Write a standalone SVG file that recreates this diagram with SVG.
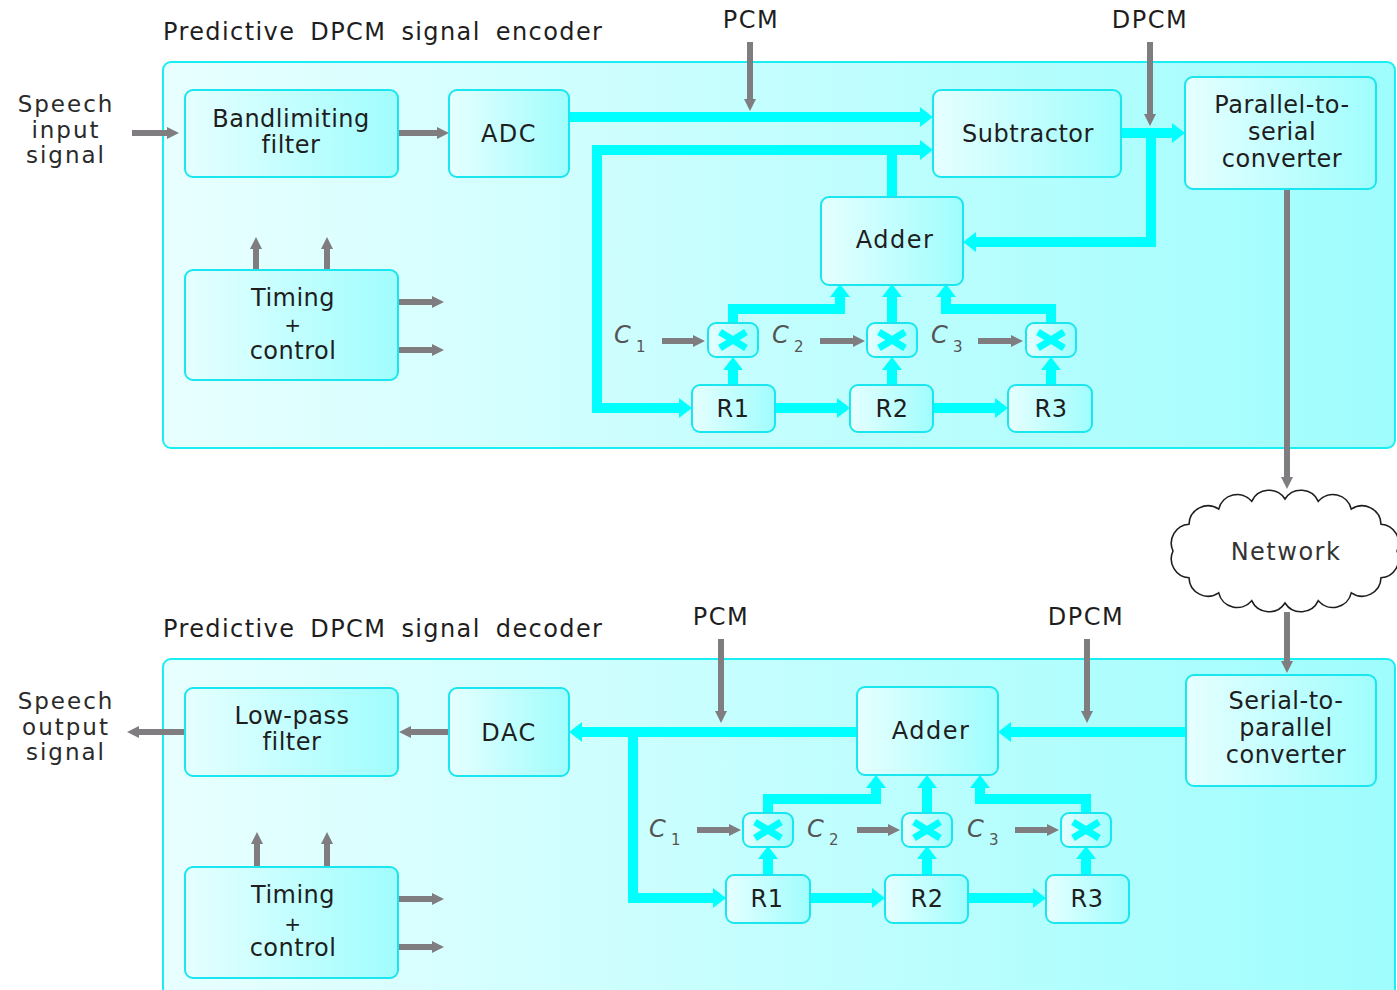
<svg xmlns="http://www.w3.org/2000/svg" width="1397" height="990" viewBox="0 0 1397 990">
<defs>
<linearGradient id="bg" x1="0" y1="0" x2="1" y2="0"><stop offset="0" stop-color="#e6ffff"/><stop offset="1" stop-color="#a0fdfd"/></linearGradient>
<linearGradient id="pg" gradientUnits="userSpaceOnUse" x1="163" y1="0" x2="1397" y2="0"><stop offset="0" stop-color="#e8ffff"/><stop offset="1" stop-color="#9ffdfd"/></linearGradient>
<marker id="ca" markerUnits="userSpaceOnUse" markerWidth="14" markerHeight="20" viewBox="0 0 14 20" refX="0" refY="10" orient="auto"><path d="M0,0 L13,10 L0,20 Z" fill="#00ffff"/></marker>
<marker id="ga" markerUnits="userSpaceOnUse" markerWidth="12" markerHeight="12" viewBox="0 0 12 12" refX="0" refY="6" orient="auto"><path d="M0,0 L12,6 L0,12 Z" fill="#7f7d80"/></marker>
<g id="mul"><rect x="-25" y="-17" width="50" height="34" rx="8" class="box"/><path d="M-13,-8 L13,8 M-13,8 L13,-8" stroke="#00ffff" stroke-width="7" fill="none"/></g>
</defs>
<style>
.box{stroke:#19e6ee;stroke-width:2;fill:url(#bg)}
.panel{stroke:#19eef2;stroke-width:2;fill:url(#pg)}
.t{font-family:"DejaVu Sans",sans-serif;font-size:24px;fill:#1e1e1e;text-anchor:middle;letter-spacing:0.5px}
.w{letter-spacing:1.5px}
.p{font-size:20px}
.s{font-family:"DejaVu Sans",sans-serif;font-size:23px;fill:#2a2a2a;text-anchor:middle;letter-spacing:2px}
.h{font-family:"DejaVu Sans",sans-serif;font-size:24px;fill:#1e1e1e;letter-spacing:1.4px;word-spacing:6px}
.ci{font-family:"DejaVu Sans",sans-serif;font-size:24px;fill:#555;font-style:italic}
.cs{font-family:"DejaVu Sans",sans-serif;font-size:15px;fill:#555}
.c{fill:none;stroke:#00ffff;stroke-width:10;marker-end:url(#ca)}
.g{fill:none;stroke:#7f7d80;stroke-width:6;marker-end:url(#ga)}
</style>
<rect width="1397" height="990" fill="#ffffff"/>

<g id="encoder-panel">
<rect class="panel" x="163" y="62" width="1232" height="386" rx="8"/>
<text class="h" x="163" y="40">Predictive DPCM signal encoder</text>
</g>
<g id="decoder-panel">
<rect class="panel" x="163" y="659" width="1232" height="345" rx="8"/>
<text class="h" x="163" y="637">Predictive DPCM signal decoder</text>
</g>

<g id="connectors">
<path class="c" d="M569,117 H920"/>
<path class="c" d="M892,197 V150 H920"/>
<path class="c" d="M892,150 H597 V408 H679"/>
<path class="c" d="M1121,133 H1172"/>
<path class="c" d="M1151,128 V242 H976"/>
<path class="c" d="M733,323 V309 H840 V297"/>
<path class="c" d="M892,323 V297"/>
<path class="c" d="M1051,323 V309 H946 V297"/>
<path class="c" d="M733,385 V370"/>
<path class="c" d="M892,385 V370"/>
<path class="c" d="M1051,385 V370"/>
<path class="c" d="M775,408 H837"/>
<path class="c" d="M933,408 H995"/>
<path class="c" d="M1186,732 H1011"/>
<path class="c" d="M857,732 H582"/>
<path class="c" d="M633,727 V898 H713"/>
<path class="c" d="M810,898 H872"/>
<path class="c" d="M968,898 H1033"/>
<path class="c" d="M768,875 V859"/>
<path class="c" d="M927,875 V859"/>
<path class="c" d="M1086,875 V859"/>
<path class="c" d="M768,814 V799 H876 V788"/>
<path class="c" d="M927,814 V788"/>
<path class="c" d="M1086,814 V799 H980 V788"/>
<path class="g" d="M132,133 H167"/>
<path class="g" d="M398,133 H437"/>
<path class="g" d="M750,42 V99"/>
<path class="g" d="M1150,42 V114"/>
<path class="g" d="M256,270 V249"/>
<path class="g" d="M327,270 V249"/>
<path class="g" d="M398,302 H432"/>
<path class="g" d="M398,350 H432"/>
<path class="g" d="M662,341 H693"/>
<path class="g" d="M820,341 H853"/>
<path class="g" d="M978,341 H1011"/>
<path class="g" d="M1287,189 V477"/>
<path class="g" d="M1287,612 V661"/>
<path class="g" d="M721,639 V711"/>
<path class="g" d="M1087,639 V711"/>
<path class="g" d="M449,732 H411"/>
<path class="g" d="M185,732 H139"/>
<path class="g" d="M257,867 V844"/>
<path class="g" d="M327,867 V844"/>
<path class="g" d="M398,899 H432"/>
<path class="g" d="M398,947 H432"/>
<path class="g" d="M697,830 H729"/>
<path class="g" d="M857,830 H888"/>
<path class="g" d="M1015,830 H1047"/>
</g>

<g id="speech-input"><text class="s" x="66" y="112">Speech</text><text class="s" x="66" y="138">input</text><text class="s" x="66" y="163">signal</text></g>
<g id="enc-bandlimiting"><rect class="box" x="185" y="90" width="213" height="87" rx="8"/><text class="t" x="291" y="127">Bandlimiting</text><text class="t" x="291" y="153">filter</text></g>
<g id="enc-adc"><rect class="box" x="449" y="90" width="120" height="87" rx="8"/><text class="t w" x="509" y="142">ADC</text></g>
<g id="enc-subtractor"><rect class="box" x="933" y="90" width="188" height="87" rx="8"/><text class="t" x="1028" y="142">Subtractor</text></g>
<g id="enc-p2s"><rect class="box" x="1185" y="77" width="191" height="112" rx="8"/><text class="t" x="1282" y="113">Parallel-to-</text><text class="t" x="1282" y="140">serial</text><text class="t" x="1282" y="167">converter</text></g>
<g id="enc-adder"><rect class="box" x="821" y="197" width="142" height="88" rx="8"/><text class="t w" x="895" y="248">Adder</text></g>
<g id="enc-timing"><rect class="box" x="185" y="270" width="213" height="110" rx="8"/><text class="t" x="293" y="306">Timing</text><text class="t p" x="293" y="332">+</text><text class="t" x="293" y="359">control</text></g>
<g id="enc-m1"><use href="#mul" x="733" y="340"/></g>
<g id="enc-m2"><use href="#mul" x="892" y="340"/></g>
<g id="enc-m3"><use href="#mul" x="1051" y="340"/></g>
<g id="enc-r1"><rect class="box" x="692" y="385" width="83" height="47" rx="8"/><text class="t" x="733" y="417">R1</text></g>
<g id="enc-r2"><rect class="box" x="850" y="385" width="83" height="47" rx="8"/><text class="t" x="892" y="417">R2</text></g>
<g id="enc-r3"><rect class="box" x="1008" y="385" width="84" height="47" rx="8"/><text class="t" x="1051" y="417">R3</text></g>
<g id="enc-c-labels">
<text class="ci" x="614" y="343">C</text><text class="cs" x="636" y="352">1</text>
<text class="ci" x="772" y="343">C</text><text class="cs" x="794" y="352">2</text>
<text class="ci" x="931" y="343">C</text><text class="cs" x="953" y="352">3</text>
</g>
<g id="enc-pcm"><text class="t w" x="751" y="28">PCM</text></g>
<g id="enc-dpcm"><text class="t w" x="1150" y="28">DPCM</text></g>

<g id="network">
<path d="M1397,551 A19,19 0 0 1 1381,577.8 A19,19 0 0 1 1351.3,592.9 A19,19 0 0 1 1318.3,600.7 A19,19 0 0 1 1285,603 A19,19 0 0 1 1251.7,600.7 A19,19 0 0 1 1218.7,592.9 A19,19 0 0 1 1189,577.8 A19,19 0 0 1 1173,551 A19,19 0 0 1 1189,524.2 A19,19 0 0 1 1218.7,509.1 A19,19 0 0 1 1251.7,501.3 A19,19 0 0 1 1285,499 A19,19 0 0 1 1318.3,501.3 A19,19 0 0 1 1351.3,509.1 A19,19 0 0 1 1381,524.2 A19,19 0 0 1 1397,551 Z" fill="#ffffff" stroke="#1e1e1e" stroke-width="1.6"/>
<text class="t w" x="1286" y="560" style="fill:#333">Network</text>
</g>

<g id="speech-output"><text class="s" x="66" y="709">Speech</text><text class="s" x="66" y="735">output</text><text class="s" x="66" y="760">signal</text></g>
<g id="dec-lowpass"><rect class="box" x="185" y="688" width="213" height="88" rx="8"/><text class="t" x="292" y="724">Low-pass</text><text class="t" x="292" y="750">filter</text></g>
<g id="dec-dac"><rect class="box" x="449" y="688" width="120" height="88" rx="8"/><text class="t w" x="509" y="741">DAC</text></g>
<g id="dec-adder"><rect class="box" x="857" y="687" width="141" height="88" rx="8"/><text class="t w" x="931" y="739">Adder</text></g>
<g id="dec-s2p"><rect class="box" x="1186" y="675" width="190" height="111" rx="8"/><text class="t" x="1286" y="709">Serial-to-</text><text class="t" x="1286" y="736">parallel</text><text class="t" x="1286" y="763">converter</text></g>
<g id="dec-timing"><rect class="box" x="185" y="867" width="213" height="111" rx="8"/><text class="t" x="293" y="903">Timing</text><text class="t p" x="293" y="931">+</text><text class="t" x="293" y="956">control</text></g>
<g id="dec-m1"><use href="#mul" x="768" y="830"/></g>
<g id="dec-m2"><use href="#mul" x="927" y="830"/></g>
<g id="dec-m3"><use href="#mul" x="1086" y="830"/></g>
<g id="dec-r1"><rect class="box" x="726" y="875" width="84" height="48" rx="8"/><text class="t" x="767" y="907">R1</text></g>
<g id="dec-r2"><rect class="box" x="885" y="875" width="83" height="48" rx="8"/><text class="t" x="927" y="907">R2</text></g>
<g id="dec-r3"><rect class="box" x="1046" y="875" width="83" height="48" rx="8"/><text class="t" x="1087" y="907">R3</text></g>
<g id="dec-c-labels">
<text class="ci" x="649" y="837">C</text><text class="cs" x="671" y="845">1</text>
<text class="ci" x="807" y="837">C</text><text class="cs" x="829" y="845">2</text>
<text class="ci" x="967" y="837">C</text><text class="cs" x="989" y="845">3</text>
</g>
<g id="dec-pcm"><text class="t w" x="721" y="625">PCM</text></g>
<g id="dec-dpcm"><text class="t w" x="1086" y="625">DPCM</text></g>
</svg>
